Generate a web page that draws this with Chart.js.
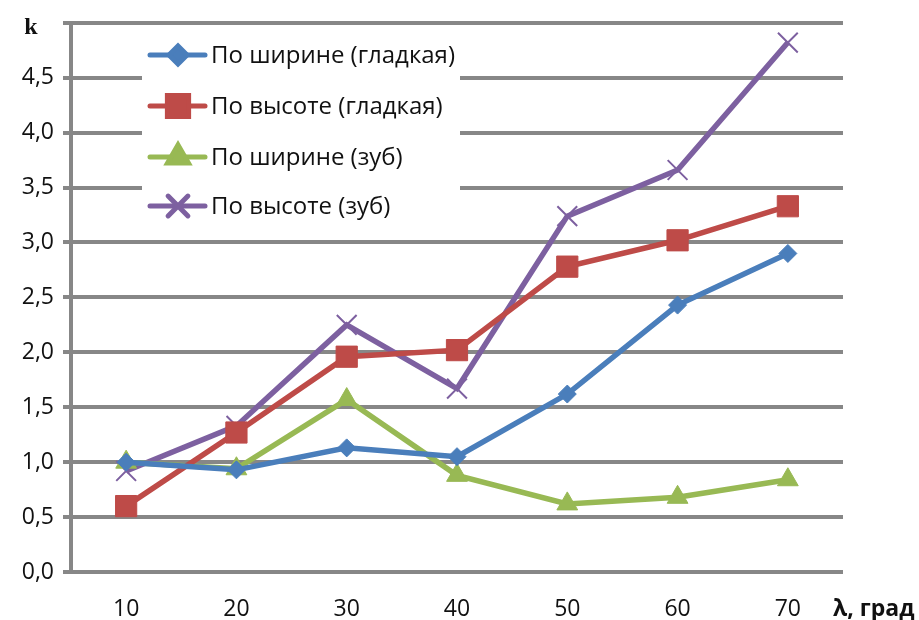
<!DOCTYPE html>
<html>
<head>
<meta charset="utf-8">
<script src="https://cdn.jsdelivr.net/npm/chart.js@4/dist/chart.umd.min.js"></script>
<style>
  html, body { margin: 0; padding: 0; background: #fff; }
  #wrap { width: 919px; height: 620px; }
</style>
</head>
<body>
<div id="wrap"><canvas id="chart" width="919" height="620"></canvas></div>
<script>
// --- данные ---
const angles = ['10', '20', '30', '40', '50', '60', '70'];
const widthSmooth = [1.00, 0.93, 1.13, 1.05, 1.62, 2.43, 2.90];
const heightSmooth = [0.60, 1.27, 1.96, 2.02, 2.78, 3.02, 3.33];
const widthTooth = [1.00, 0.94, 1.57, 0.88, 0.62, 0.68, 0.84];
const heightTooth = [0.92, 1.33, 2.25, 1.67, 3.24, 3.66, 4.82];
const seriesNames = ['По ширине (гладкая)', 'По высоте (гладкая)', 'По ширине (зуб)', 'По высоте (зуб)'];
const yTicks = [0, 0.5, 1, 1.5, 2, 2.5, 3, 3.5, 4, 4.5, 5];

const GRID = '#878787';
const FONT = '"Open Sans", "DejaVu Sans", sans-serif';

function series(label, data, color, style, radius, bw) {
  return {
    label: label,
    data: data,
    borderColor: color,
    backgroundColor: color,
    borderWidth: 5.5,
    pointStyle: style,
    pointRadius: radius,
    pointHoverRadius: radius,
    pointBorderWidth: bw,
    pointBorderColor: color,
    pointBackgroundColor: color,
    tension: 0
  };
}

// легенда внутри области графика
const boxLegend = {
  id: 'boxLegend',
  afterDraw(chart) {
    const ctx = chart.ctx;
    ctx.save();
    ctx.fillStyle = '#fff';
    ctx.fillRect(142, 30, 318, 200);
    const rows = [55, 106, 157, 206];
    chart.data.datasets.forEach((ds, i) => {
      const y = rows[i];
      ctx.strokeStyle = ds.borderColor;
      ctx.lineWidth = 5;
      ctx.lineCap = 'round';
      ctx.beginPath();
      ctx.moveTo(150, y);
      ctx.lineTo(205, y);
      ctx.stroke();
      ctx.fillStyle = ds.borderColor;
      Chart.helpers.drawPoint(ctx, {
        pointStyle: ds.pointStyle,
        radius: ds.pointRadius,
        rotation: 0,
        borderWidth: ds.pointBorderWidth
      }, 178, y);
      ctx.fillStyle = '#111';
      ctx.font = '24px ' + FONT;
      ctx.textAlign = 'left';
      ctx.textBaseline = 'middle';
      ctx.fillText(ds.label, 211, y + 1);
    });
    // подписи осей
    ctx.fillStyle = '#111';
    ctx.font = 'bold 24px "Liberation Serif", "DejaVu Serif", serif';
    ctx.textAlign = 'center';
    ctx.fillText('k', 31, 28);
    ctx.font = 'bold 23px ' + FONT;
    ctx.textAlign = 'left';
    ctx.fillText('λ, град', 833, 609);
    ctx.restore();
  }
};

new Chart(document.getElementById('chart'), {
  type: 'line',
  data: {
    labels: angles,
    datasets: [
      series(seriesNames[0], widthSmooth, '#4A7EBB', 'rectRot', 9, 1),
      series(seriesNames[1], heightSmooth, '#BE4B48', 'rect', 15, 1),
      series(seriesNames[2], widthTooth, '#98B954', 'triangle', 12, 1),
      series(seriesNames[3], heightTooth, '#7D60A0', 'crossRot', 14, 2)
    ]
  },
  options: {
    responsive: false,
    animation: false,
    layout: { padding: { left: 0, right: 76, top: 20, bottom: 0 } },
    plugins: {
      legend: { display: false },
      tooltip: { enabled: false }
    },
    scales: {
      x: {
        offset: true,
        grid: { display: false, offset: true },
        border: { display: false },
        ticks: { color: '#111', font: { family: FONT, size: 23 }, padding: 16 },
        afterFit(s) { s.height = 48; }
      },
      y: {
        min: 0,
        max: 5,
        afterBuildTicks(s) { s.ticks = yTicks.map(v => ({ value: v })); },
        grid: { color: GRID, lineWidth: 4, tickLength: 8, tickColor: GRID },
        border: { color: GRID, width: 4 },
        ticks: {
          color: '#111',
          font: { family: FONT, size: 23 },
          padding: 9,
          callback: v => v === 5 ? '' : v.toFixed(1).replace('.', ',')
        },
        afterFit(s) { s.width = 71; }
      }
    }
  },
  plugins: [boxLegend]
});
</script>
</body>
</html>
